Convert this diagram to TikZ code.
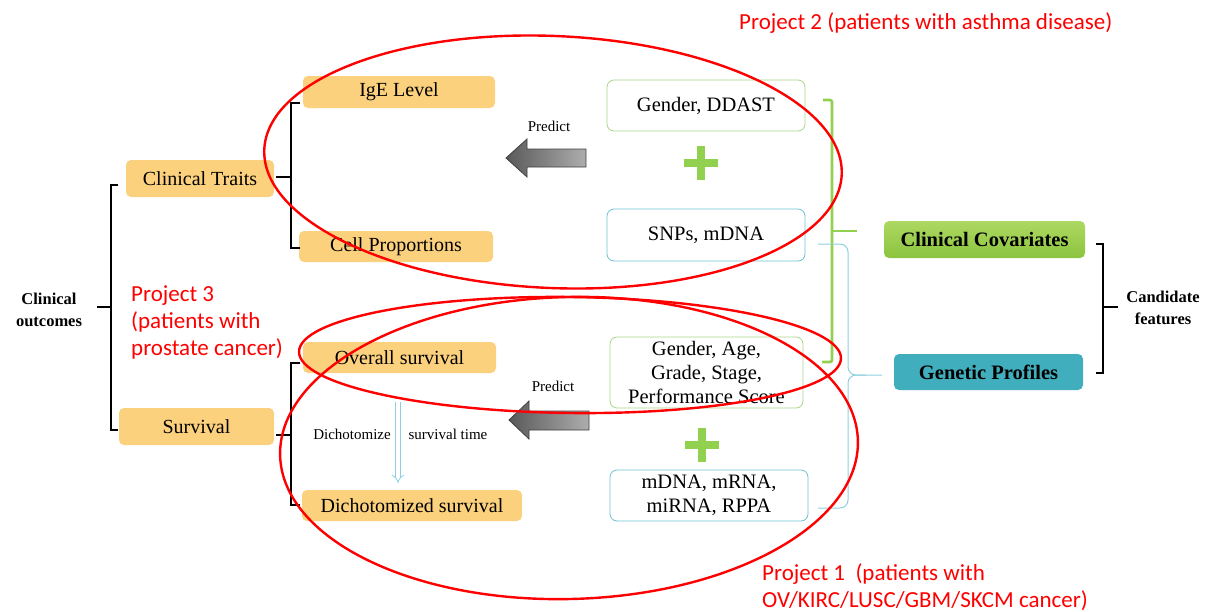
\documentclass[tikz,border=0pt]{standalone}
\usepackage{fontspec}
\setmainfont{Liberation Serif}
\newfontfamily\calibri{Carlito}
\usetikzlibrary{arrows.meta}

\definecolor{boxorange}{HTML}{FCD17D}
\definecolor{ccgreenA}{HTML}{ADD862}
\definecolor{ccgreenB}{HTML}{8CC43E}
\definecolor{gpteal}{HTML}{41AEBE}
\definecolor{lightgreen}{HTML}{A9D68A}
\definecolor{lightteal}{HTML}{6CC2D2}
\definecolor{bracegreen}{HTML}{92D050}
\definecolor{braceteal}{HTML}{8ED0DE}
\definecolor{plusgreen}{HTML}{92D050}
\definecolor{ringred}{HTML}{FF0000}

\begin{document}
\begin{tikzpicture}[x=1pt,y=-1pt,
  outbox/.style={fill=boxorange, rounded corners=5pt, inner sep=0pt,
    font=\fontsize{20}{22}\selectfont},
  featbox/.style={draw, fill=white, rounded corners=7pt, line width=0.8pt,
    inner sep=0pt, align=center, font=\fontsize{20.5}{24}\selectfont},
  groupbox/.style={rounded corners=5pt, inner sep=0pt,
    font=\bfseries\fontsize{20.5}{24}\selectfont},
  sidelabel/.style={align=center, font=\bfseries\fontsize{16.5}{22}\selectfont},
  smalllabel/.style={font=\fontsize{15}{18}\selectfont},
  brk/.style={line width=1.5pt, black},
  greenbrk/.style={line width=2.6pt, bracegreen, rounded corners=2pt},
  tealbrace/.style={line width=1pt, braceteal, rounded corners=8pt},
  blockarrow/.style={draw=black!75, line width=0.8pt, left color=black!65, right color=black!32},
  ring/.style={line width=2.4pt, ringred},
  project/.style={ringred, align=left, inner sep=0pt,
    font=\calibri\fontsize{23}{27}\selectfont},
  dicharrow/.style={braceteal, line width=0.8pt, double, double distance=3.5pt,
    -{Implies[length=7pt]}},
]
\useasboundingbox (0,0) rectangle (1219,611);

% outcome boxes
\node[outbox, minimum width=148, minimum height=37] (ct)   at (200,178.5) {Clinical Traits};
\node[outbox, minimum width=192, minimum height=32] (ige)  at (399,92)    {IgE Level};
\node[outbox, minimum width=194, minimum height=31] (cell) at (396,246.5) {Cell Proportions};
\node[outbox, minimum width=155, minimum height=37] (sv)   at (196.5,426.5) {Survival};
\node[outbox, minimum width=193, minimum height=31] (os)   at (399.5,357.5) {Overall survival};
\node[outbox, minimum width=220, minimum height=31] (dsv)  at (412,505.5) {Dichotomized survival};

% feature boxes
\node[featbox, draw=lightgreen, minimum width=198, minimum height=51] (gd)   at (706,105.5) {Gender, DDAST};
\node[featbox, draw=lightteal,  minimum width=198, minimum height=52] (snp)  at (706,235)   {SNPs, mDNA};
\node[featbox, draw=lightgreen, minimum width=193, minimum height=71] (gas)  at (706.5,372.5) {Gender, Age,\\Grade, Stage,\\Performance Score};
\node[featbox, draw=lightteal,  minimum width=198, minimum height=51] (mdna) at (709,495.5) {mDNA, mRNA,\\miRNA, RPPA};

% feature groups
\node[groupbox, top color=ccgreenA, bottom color=ccgreenB, minimum width=201, minimum height=37] (cc) at (984.5,239.5) {Clinical Covariates};
\node[groupbox, fill=gpteal, minimum width=189, minimum height=36] (gp) at (988.5,372) {Genetic Profiles};

% side labels
\node[sidelabel] (co) at (49,310) {Clinical\\outcomes};
\node[sidelabel] (cf) at (1163,308) {Candidate\\features};
\node[smalllabel] (pr1) at (549,126) {Predict};
\node[smalllabel] (pr2) at (553,386) {Predict};
\node[smalllabel] (dich) at (352,434) {Dichotomize};
\node[smalllabel] (stime) at (448,434) {survival time};

% black brackets
\draw[brk] (118,185) -- (111,185) -- (111,430) -- (118,430);
\draw[brk] (97,307) -- (111,307);
\draw[brk] (300,103) -- (291,103) -- (291,248) -- (300,248);
\draw[brk] (276,177) -- (291,177);
\draw[brk] (300,363) -- (291,363) -- (291,505) -- (300,505);
\draw[brk] (276,435) -- (291,435);
\draw[brk] (1096,244) -- (1103,244) -- (1103,373) -- (1096,373);
\draw[brk] (1103,307) -- (1118,307);

% green bracket: clinical covariates
\draw[greenbrk] (823,100) -- (832,100) -- (832,362) -- (822,362);
\draw[greenbrk] (832,231) -- (857,231);

% teal brace: genetic profiles
\draw[tealbrace] (818,244) -- (848,244) -- (848,375) -- (882,375);
\draw[tealbrace] (866,375) -- (848,375) -- (848,508) -- (818,508);

% plus signs
\fill[plusgreen] (684,159) rectangle (718,167);
\fill[plusgreen] (697,146) rectangle (705,180);
\fill[plusgreen] (685,441) rectangle (719,449);
\fill[plusgreen] (698,428) rectangle (706,462);

% predict arrows
\path[blockarrow] (506,158) -- (527,139) -- (527,149) -- (586,149) -- (586,167)
  -- (527,167) -- (527,177) -- cycle;
\path[blockarrow] (509,420) -- (529,401) -- (529,411) -- (589,411) -- (589,430)
  -- (529,430) -- (529,439) -- cycle;

% dichotomize arrow
\coordinate (dtop) at (398,402);
\coordinate (dbot) at (398,483);
\draw[dicharrow] (dtop) -- (dbot);

% project rings
\draw[ring, rotate around={-2.5:(553,162)}] (553,162) ellipse [x radius=289, y radius=126];
\draw[ring, rotate around={-0.7:(570,355)}] (570,355) ellipse [x radius=271, y radius=58];
\draw[ring, rotate around={1.5:(569,448)}] (569,448) ellipse [x radius=289, y radius=151];

% project captions
\node[project, anchor=west] (p2) at (739,23) {Project 2 (patients with asthma disease)};
\node[project, anchor=north west] (p3) at (131,285) {Project 3\\(patients with\\prostate cancer)};
\node[project, anchor=north west] (p1) at (762,563) {Project 1\ \ (patients with\\OV/KIRC/LUSC/GBM/SKCM cancer)};
\end{tikzpicture}
\end{document}
